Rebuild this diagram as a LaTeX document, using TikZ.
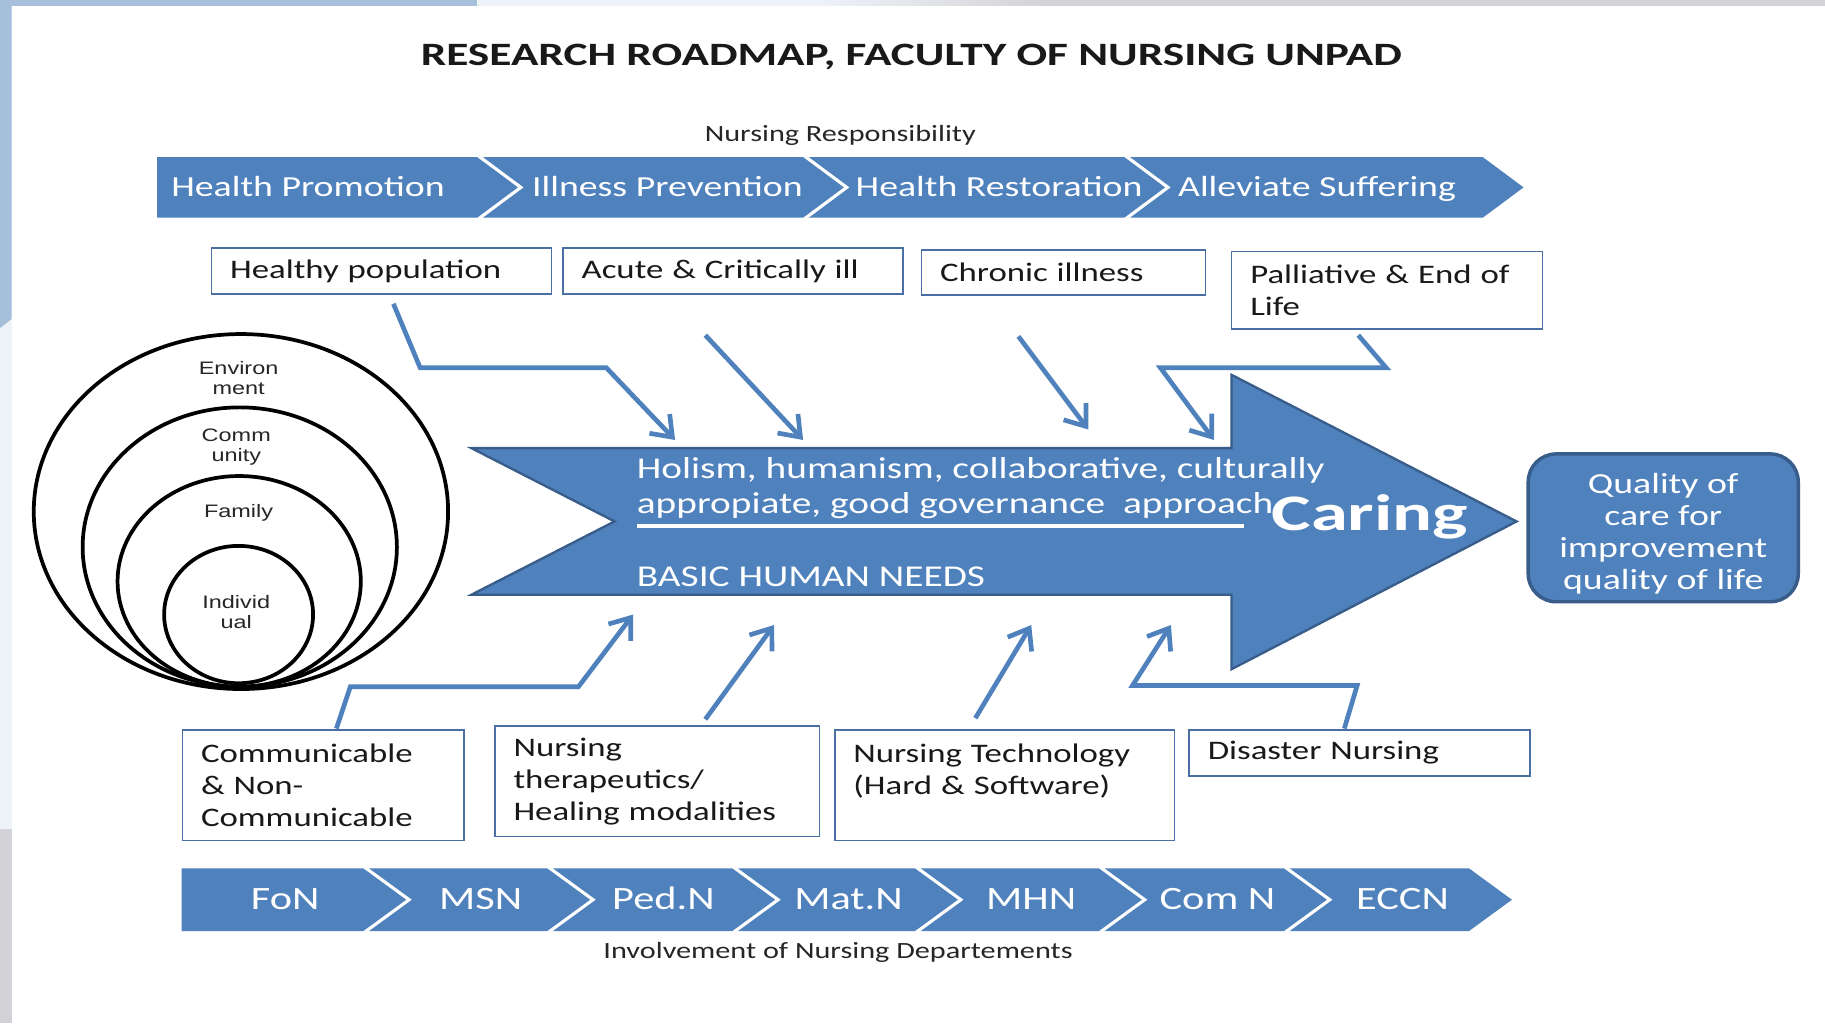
\documentclass[tikz,border=0pt]{standalone}
\usepackage{fontspec}
\setmainfont{Carlito}[FakeStretch=1.3]
\newfontfamily\arialw{Liberation Sans}[FakeStretch=1.3]
\usetikzlibrary{arrows.meta,shapes.geometric}
\definecolor{mblue}{HTML}{4F81BD}
\definecolor{mdark}{HTML}{385D8A}
\definecolor{boxline}{HTML}{4A6FA5}
\definecolor{bgblue}{HTML}{A6BFDA}
\definecolor{bglight}{HTML}{EEF3F9}
\definecolor{bggray}{HTML}{D3D3D7}
\newcommand\myfs[2]{\fontsize{#1}{#2}\selectfont}
\begin{document}
\begin{tikzpicture}[x=1pt,y=-1pt,
  seg/.style={fill=mblue},
  segtext/.style={text=white,font=\myfs{25}{28},inner sep=0pt,anchor=base west},
  deptext/.style={text=white,font=\myfs{28}{30},inner sep=0pt,anchor=base},
  topic/.style={draw=boxline,line width=1.4pt,fill=white,anchor=north west,align=left,
    inner xsep=16pt,inner ysep=0pt,font=\myfs{23}{27.5},text=black!90},
  conn/.style={draw=mblue,line width=4pt,-{Straight Barb[length=16pt,width=24pt]}},
  ring/.style={draw=black,line width=3.2pt,ellipse,inner sep=0pt},
  ringlabel/.style={font=\arialw\myfs{15.5}{17},align=center,inner sep=0pt,text=black!85},
  arrtext/.style={text=white,font=\myfs{26}{30},inner sep=0pt,anchor=base west}
]
\useasboundingbox (0,0) rectangle (1568,879);
% slide background
\fill[bggray] (0,0) rectangle (1568,879);
\fill[bglight] (0,0) rectangle (10,712);
\fill[bgblue] (0,0) -- (10,0) -- (10,274) -- (0,282) -- cycle;
\fill[bgblue] (0,0) rectangle (410,5);
\fill[bglight] (410,0) rectangle (700,5);
\shade[left color=bglight,right color=bggray] (700,0) rectangle (900,5);
\fill[white] (10,5) rectangle (1568,879);

% title
\node[font=\bfseries\myfs{28}{30},text=black!90,anchor=base,inner sep=0pt] (title) at (783,56.5)
  {\scalebox{1.07}[1]{RESEARCH ROADMAP, FACULTY OF NURSING UNPAD}};
\node[font=\myfs{20}{22},text=black!85,anchor=base,inner sep=0pt] (nr) at (722,121.7) {Nursing Responsibility};

% top chevron bar
\fill[seg] (135,135) -- (410,135) -- (445,161) -- (410,187) -- (135,187) -- cycle;
\fill[seg] (415,135) -- (690,135) -- (725,161) -- (690,187) -- (415,187) -- (450,161) -- cycle;
\fill[seg] (695,135) -- (966,135) -- (1001,161) -- (966,187) -- (695,187) -- (730,161) -- cycle;
\fill[seg] (971,135) -- (1274,135) -- (1309,161) -- (1274,187) -- (971,187) -- (1006,161) -- cycle;
\node[segtext] (tb1) at (147,169) {Health Promotion};
\node[segtext] (tb2) at (457,169) {Illness Prevention};
\node[segtext] (tb3) at (735,169) {Health Restoration};
\node[segtext] (tb4) at (1012,169) {Alleviate Suffering};

% top topic boxes
\node[topic,minimum width=292pt,minimum height=39.5pt,text width=260pt] (hp) at (181,212.5) {Healthy population};
\node[topic,minimum width=292pt,minimum height=39.5pt,text width=260pt] (ac) at (483,212.5) {Acute \& Critically ill};
\node[topic,minimum width=244pt,minimum height=39pt,text width=212pt] (ch) at (791,214) {Chronic illness};
\node[topic,minimum width=267pt,minimum height=66.5pt,text width=235pt] (pa) at (1057.5,215.5) {Palliative \& End of\\Life};

% rings
\node[ring,minimum width=356pt,minimum height=305pt] (env) at (207,439.5) {};
\node[ring,minimum width=270pt,minimum height=240pt] (com) at (206,470) {};
\node[ring,minimum width=209pt,minimum height=181pt] (fam) at (205.5,499.5) {};
\node[ring,minimum width=128pt,minimum height=118pt] (ind) at (205,528) {};
\node[ringlabel] (envl) at (205,324.5) {Environ\\ment};
\node[ringlabel] (coml) at (203,384) {Comm\\unity};
\node[ringlabel] (faml) at (205,441) {Family};
\node[ringlabel] (indl) at (203,526) {Individ\\ual};

% big arrow
\filldraw[fill=mblue,draw=mdark,line width=2pt,line join=miter]
  (405,385) -- (1058,385) -- (1058,322) -- (1303,448) -- (1058,575) -- (1058,511)
  -- (405,511) -- (528,448) -- cycle;
\node[arrtext] (v1) at (547,411) {Holism, humanism, collaborative, culturally};
\node[arrtext] (v2) at (547,441) {appropiate, good governance\ \ approach};
\draw[white,line width=3.5pt] (547,452) -- (1069,452);
\node[arrtext] (bhn) at (547,503.5) {BASIC HUMAN NEEDS};
\node[text=white,font=\bfseries\myfs{44}{44},inner sep=0pt,anchor=base] (car) at (1177,456)
  {\scalebox{1.12}[1]{Caring}};

% quality box
\node[fill=mblue,draw=mdark,line width=3pt,rounded corners=24pt,minimum width=232pt,
  minimum height=127pt,align=center,text=white,font=\myfs{25}{27.3},inner sep=0pt] (q)
  at (1429,453.5) {\rule{0pt}{27.5pt}Quality of\\care for\\improvement\\quality of life};

% bottom topic boxes
\node[topic,minimum width=242pt,minimum height=95pt,text width=210pt] (cm) at (156,626.5) {Communicable\\\& Non-\\Communicable};
\node[topic,minimum width=279pt,minimum height=95pt,text width=247pt] (nt) at (424.5,623) {Nursing\\therapeutics/\\Healing modalities};
\node[topic,minimum width=292pt,minimum height=95pt,text width=260pt] (tc) at (716.5,626.5) {Nursing Technology\\(Hard \& Software)\\\rule{0pt}{12pt}};
\node[topic,minimum width=293pt,minimum height=39.5pt,text width=261pt] (ds) at (1021,626.5) {Disaster Nursing};

% bottom chevron bar
\fill[seg] (156,746) -- (312,746) -- (349,773) -- (312,800) -- (156,800) -- cycle;
\foreach \l/\r in {317/470,475/629,634/786,791/944,949/1103,1108/1262}{
  \fill[seg] (\l,746) -- (\r,746) -- (\r+37,773) -- (\r,800) -- (\l,800) -- (\l+37,773) -- cycle;
}
\node[deptext] (d1) at (245,781) {FoN};
\node[deptext] (d2) at (413,781) {MSN};
\node[deptext] (d3) at (570,781) {Ped.N};
\node[deptext] (d4) at (729,781) {Mat.N};
\node[deptext] (d5) at (886,781) {MHN};
\node[deptext] (d6) at (1046,781) {Com N};
\node[deptext] (d7) at (1205,781) {ECCN};
\node[font=\myfs{20}{22},text=black!85,anchor=base,inner sep=0pt] (inv) at (720,823.5) {Involvement of Nursing Departements};

% connectors
\coordinate (c1s) at (338,261);  \coordinate (c1e) at (580,378);
\coordinate (c2s) at (606,288);  \coordinate (c2e) at (690,378);
\coordinate (c3s) at (875,289);  \coordinate (c3e) at (935,369);
\coordinate (c4s) at (1167,288); \coordinate (c4e) at (1043,378);
\coordinate (c5s) at (289,626);  \coordinate (c5e) at (544,528);
\coordinate (c6s) at (606,618);  \coordinate (c6e) at (665,537);
\coordinate (c7s) at (838,617);  \coordinate (c7e) at (886,537);
\coordinate (c8s) at (1155,626); \coordinate (c8e) at (1006,537);
\draw[conn] (c1s) -- (361,316) -- (521,316) -- (c1e);
\draw[conn] (c2s) -- (c2e);
\draw[conn] (c3s) -- (c3e);
\draw[conn] (c4s) -- (1191,316) -- (997,316) -- (c4e);
\draw[conn] (c5s) -- (301,590) -- (497,590) -- (c5e);
\draw[conn] (c6s) -- (c6e);
\draw[conn] (c7s) -- (c7e);
\draw[conn] (c8s) -- (1166,589) -- (973,589) -- (c8e);
\end{tikzpicture}
\end{document}
